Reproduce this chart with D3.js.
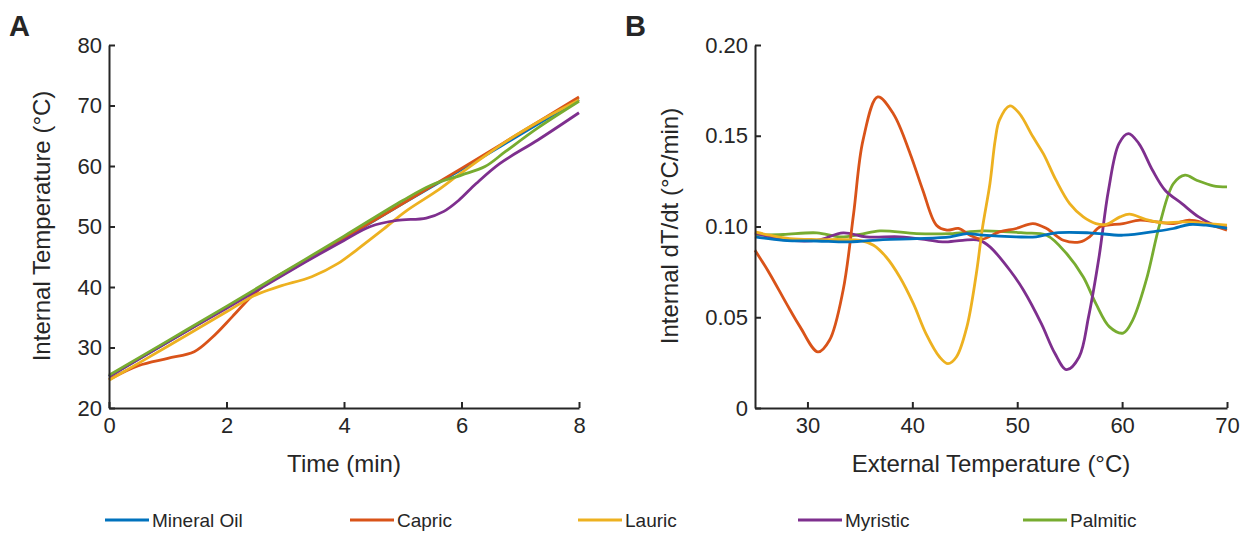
<!DOCTYPE html>
<html>
<head>
<meta charset="utf-8">
<script src="https://cdn.jsdelivr.net/npm/d3@7"></script>
<style>
  body { margin: 0; background: #fff; }
  text { font-family: "Liberation Sans", Arial, sans-serif; fill: #262626; }
</style>
</head>
<body>
<script>
// series names + colours (MATLAB defaults)
const names = ['Mineral Oil', 'Capric', 'Lauric', 'Myristic', 'Palmitic'];
const colors = ['#0072BD', '#D95319', '#EDB120', '#7E2F8E', '#77AC30'];

// Panel A: internal temperature vs time  [min, °C]
const mineralA = [[0,25.2],[1,30.9],[2,36.6],[3,42.3],[4,48.0],[5,53.8],[6,59.4],[7,65.2],[8,71.0]];
const capricA = [[0,24.7],[0.5,27.0],[1,28.2],[1.45,29.3],[1.75,31.6],[2.1,35.1],[2.45,38.7],[2.8,41.4],[3.2,43.6],[4,48.1],[5,53.8],[6,59.6],[7,65.5],[8,71.4]];
const lauricA = [[0,24.6],[1,30.2],[2,35.9],[2.5,38.7],[2.9,40.1],[3.45,41.7],[3.9,43.9],[4.25,46.4],[4.65,49.4],[5.05,52.5],[5.6,56.0],[6,58.9],[6.75,64.0],[7.4,67.8],[8,70.9]];
const myristicA = [[0,25.2],[1,30.9],[2,36.5],[3,42.2],[3.5,45.0],[4,47.7],[4.45,50.0],[4.9,51.0],[5.4,51.4],[5.7,52.5],[5.95,54.3],[6.25,57.1],[6.65,60.4],[7.3,64.3],[8,68.8]];
const palmiticA = [[0,25.4],[1,31.1],[2,36.8],[3,42.6],[4,48.4],[5,54.3],[5.5,56.9],[6,58.5],[6.4,59.9],[6.75,62.4],[7.3,66.3],[8,70.7]];

// Panel B: internal dT/dt vs external temperature  [°C, °C/min]
const mineralB = [[25,0.0943],[27.7,0.0924],[30.9,0.092],[34,0.0915],[37.2,0.0928],[40.4,0.0933],[43.6,0.0943],[45.2,0.0961],[46.7,0.0952],[49.9,0.0943],[51.8,0.0943],[53.7,0.0965],[56.9,0.0965],[60.1,0.0952],[63.3,0.0974],[64.9,0.0989],[66.4,0.1011],[68,0.1007],[70,0.0989]];
const capricB = [[25,0.0869],[26.4,0.074],[28,0.0575],[29.3,0.0447],[31,0.0309],[32.1,0.0373],[33.4,0.0649],[34.4,0.107],[35.3,0.1476],[36.7,0.1714],[38.2,0.162],[39.8,0.140],[41,0.12],[42.3,0.1007],[43.3,0.098],[44.4,0.0989],[45.5,0.0952],[46.6,0.093],[48.3,0.097],[49.9,0.0989],[51.5,0.1016],[52.8,0.0989],[54.4,0.0924],[56,0.0915],[56.9,0.0943],[57.9,0.0998],[60.1,0.1016],[61.7,0.1035],[63.3,0.1025],[64.9,0.1016],[66.4,0.1035],[68,0.1016],[70,0.098]];
const lauricB = [[25,0.097],[26.4,0.0952],[28.3,0.0933],[30.9,0.0928],[33.4,0.0928],[35,0.0924],[36.3,0.0897],[37.5,0.0832],[38.8,0.0722],[40.1,0.0575],[41.3,0.041],[42.6,0.0281],[43.4,0.0244],[44.2,0.0281],[45.2,0.0447],[46.1,0.074],[46.7,0.0998],[47.4,0.1237],[47.9,0.1476],[48.3,0.1586],[49.3,0.1665],[50.2,0.1623],[51.5,0.1494],[52.5,0.140],[53.7,0.1255],[55,0.1126],[56.3,0.1053],[57.5,0.1016],[58.5,0.1012],[59.8,0.1053],[60.7,0.1068],[62.3,0.1038],[63.9,0.102],[65.8,0.1025],[68,0.1016],[70,0.1007]];
const myristicB = [[25,0.0965],[27.7,0.0928],[30.9,0.0924],[33.4,0.0965],[35.6,0.0943],[38.8,0.0943],[41.3,0.0928],[42.9,0.0915],[44.8,0.0924],[46.4,0.0924],[47.4,0.0888],[49.3,0.0759],[50.6,0.0649],[52.3,0.0465],[53.6,0.03],[54.7,0.0211],[55.9,0.0281],[56.8,0.0502],[57.8,0.0832],[58.7,0.12],[59.7,0.1457],[60.6,0.1512],[61.6,0.1457],[62.9,0.131],[64.1,0.12],[65.7,0.1126],[67.3,0.1053],[68.9,0.1007],[70,0.0998]];
const palmiticB = [[25,0.0952],[27.7,0.0956],[30.9,0.0965],[33.1,0.0943],[35,0.0956],[36.9,0.0976],[40.4,0.0961],[43.6,0.0961],[46.7,0.0976],[50.6,0.0965],[52.8,0.0952],[54.7,0.0851],[56.3,0.0722],[57.5,0.0575],[58.8,0.0447],[60.1,0.0413],[61,0.0483],[62.3,0.0704],[63.6,0.1016],[64.9,0.1237],[66,0.1283],[67.1,0.1255],[68.7,0.1224],[70,0.1218]];

// ticks
const xTicksA = [0, 2, 4, 6, 8];
const yTicksA = [20, 30, 40, 50, 60, 70, 80];
const xTicksB = [30, 40, 50, 60, 70];
const yTicksB = [0, 0.05, 0.10, 0.15, 0.20];

const seriesA = [mineralA, capricA, lauricA, myristicA, palmiticA];
const seriesB = [mineralB, capricB, lauricB, myristicB, palmiticB];

const width = 1251, height = 533;
const axisColor = '#262626';

const svg = d3.select('body').append('svg')
  .attr('width', width).attr('height', height);

function panel(opts) {
  const x = d3.scaleLinear().domain(opts.xDomain).range(opts.xRange);
  const y = d3.scaleLinear().domain(opts.yDomain).range([408, 45]);

  const line = d3.line()
    .x(d => x(d[0])).y(d => y(d[1]))
    .curve(d3.curveCatmullRom.alpha(0.5));

  const g = svg.append('g');

  opts.order.forEach(i => {
    g.append('path')
      .datum(opts.series[i])
      .attr('d', line)
      .attr('fill', 'none')
      .attr('stroke', colors[i])
      .attr('stroke-width', 2.8)
      .attr('stroke-linejoin', 'round');
  });

  const xaxis = g.append('g')
    .attr('transform', `translate(0,${y.range()[0]})`)
    .call(d3.axisBottom(x).tickValues(opts.xTicks).tickSizeInner(-6).tickSizeOuter(0).tickPadding(9));
  const yaxis = g.append('g')
    .attr('transform', `translate(${x.range()[0]},0)`)
    .call(d3.axisLeft(y).tickValues(opts.yTicks).tickSizeInner(-6).tickSizeOuter(0).tickPadding(7)
      .tickFormat(opts.yFormat));

  [xaxis, yaxis].forEach(a => {
    a.select('.domain').attr('stroke', axisColor).attr('stroke-width', 2);
    a.selectAll('.tick line').attr('stroke', axisColor).attr('stroke-width', 2);
    a.selectAll('.tick text').style('font-size', '22px').attr('fill', axisColor);
  });

  g.append('text')
    .attr('x', (opts.xRange[0] + opts.xRange[1]) / 2)
    .attr('y', 472)
    .attr('text-anchor', 'middle')
    .style('font-size', '24px')
    .text(opts.xLabel);

  g.append('text')
    .attr('transform', `translate(${opts.yLabelX},226) rotate(-90)`)
    .attr('text-anchor', 'middle')
    .style('font-size', '24px')
    .text(opts.yLabel);

  g.append('text')
    .attr('x', opts.letterX).attr('y', 36)
    .style('font-size', '29px').style('font-weight', 'bold')
    .attr('fill', '#000')
    .text(opts.letter);
}

panel({
  series: seriesA, order: [0, 1, 2, 3, 4],
  xDomain: [0, 8], xRange: [109, 579],
  yDomain: [20, 80],
  xTicks: xTicksA, yTicks: yTicksA, yFormat: d3.format('d'),
  xLabel: 'Time (min)', yLabel: 'Internal Temperature (°C)',
  yLabelX: 50, letter: 'A', letterX: 9
});

panel({
  series: seriesB, order: [4, 3, 1, 2, 0],
  xDomain: [25, 70], xRange: [755, 1227],
  yDomain: [0, 0.2],
  xTicks: xTicksB, yTicks: yTicksB, yFormat: d => d === 0 ? '0' : d3.format('.2f')(d),
  xLabel: 'External Temperature (°C)', yLabel: 'Internal dT/dt (°C/min)',
  yLabelX: 678, letter: 'B', letterX: 625
});

// legend
const legendX = [105, 350, 578, 798, 1023];
const legend = svg.append('g').attr('transform', 'translate(0,520)');
names.forEach((n, i) => {
  legend.append('line')
    .attr('x1', legendX[i]).attr('x2', legendX[i] + 44)
    .attr('y1', 0).attr('y2', 0)
    .attr('stroke', colors[i]).attr('stroke-width', 2.8);
  legend.append('text')
    .attr('x', legendX[i] + 47).attr('y', 7)
    .style('font-size', '19px')
    .attr('fill', '#000')
    .text(n);
});
</script>
</body>
</html>
